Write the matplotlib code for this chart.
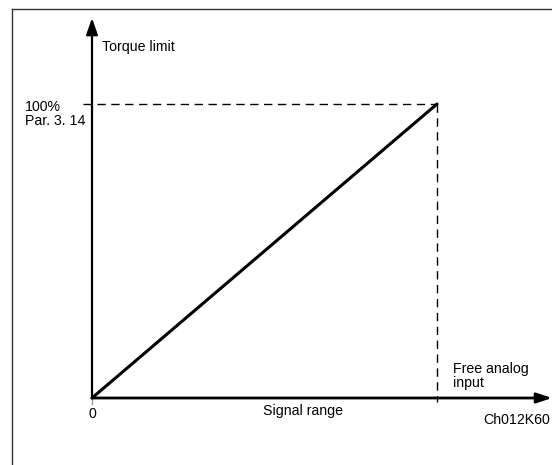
import matplotlib.pyplot as plt
from matplotlib.lines import Line2D

# data: torque limit follows the analog signal linearly
signal = [0.0, 1.0]
torque = [0.0, 100.0]
ylabel_txt = 'Torque limit'
xlabel_txt = 'Signal range'
top_txt = '100%\nPar. 3. 14'
right_txt = 'Free analog\ninput'
code_txt = 'Ch012K60'

W, H = 552, 465
plt.rcParams['font.family'] = ['Liberation Sans', 'DejaVu Sans']

fig = plt.figure(figsize=(W/100, H/100), dpi=100, facecolor='white')

# pixel positions of origin and of the (1, 100%) point
x0, y0 = 92, 398
x1, y1 = 437, 104
ax = fig.add_axes((x0/W, (H-y0)/H, (x1-x0)/W, (y0-y1)/H))
ax.set_xlim(signal[0], signal[1])
ax.set_ylim(torque[0], torque[1])
ax.axis('off')

sx = (x1-x0)/(signal[1]-signal[0])
sy = (y0-y1)/(torque[1]-torque[0])
def px2x(p):
    return signal[0] + (p-x0)/sx
def px2y(p):
    return torque[0] + (y0-p)/sy

# frame (top and left edges only)
fig.add_artist(Line2D([12/W, 12/W], [0, 1-9/H], color='#333333', lw=1.0))
fig.add_artist(Line2D([12/W, 1], [1-9/H, 1-9/H], color='#333333', lw=1.0))

# axes with arrows
ax.annotate('', xy=(px2x(552), 0), xytext=(0, 0), annotation_clip=False,
            arrowprops=dict(arrowstyle='-|>,head_length=0.9,head_width=0.3', color='black', lw=2.0, shrinkA=0, shrinkB=0))
ax.annotate('', xy=(0, px2y(18)), xytext=(0, 0), annotation_clip=False,
            arrowprops=dict(arrowstyle='-|>,head_length=1.0,head_width=0.35', color='black', lw=1.6, shrinkA=0, shrinkB=0))
ax.plot([0, 0], [0, px2y(404)], color='#999999', lw=1.0, clip_on=False)

# dashed guides
ax.plot([px2x(83), signal[1]], [torque[1], torque[1]], color='black', lw=1.0, ls=(0, (6, 4)), clip_on=False)
ax.plot([signal[1], signal[1]], [torque[1], px2y(402)], color='black', lw=1.0, ls=(0, (6, 4)), clip_on=False)

# characteristic
ax.plot(signal, torque, color='black', lw=2.2, clip_on=False, solid_capstyle='round')

fs = 10.2
ax.text(px2x(102), px2y(47), ylabel_txt, fontsize=fs, va='center', ha='left')
ax.text(px2x(25), px2y(114), top_txt, fontsize=fs, va='center', ha='left', linespacing=0.95)
ax.text(0, px2y(414), '0', fontsize=fs, va='center', ha='center')
ax.text(px2x(303), px2y(411), xlabel_txt, fontsize=fs, va='center', ha='center')
ax.text(px2x(453), px2y(376), right_txt, fontsize=fs, va='center', ha='left', linespacing=0.95)
ax.text(px2x(550), px2y(420), code_txt, fontsize=fs, va='center', ha='right')

fig.savefig('out.png', dpi=100, facecolor='white')
